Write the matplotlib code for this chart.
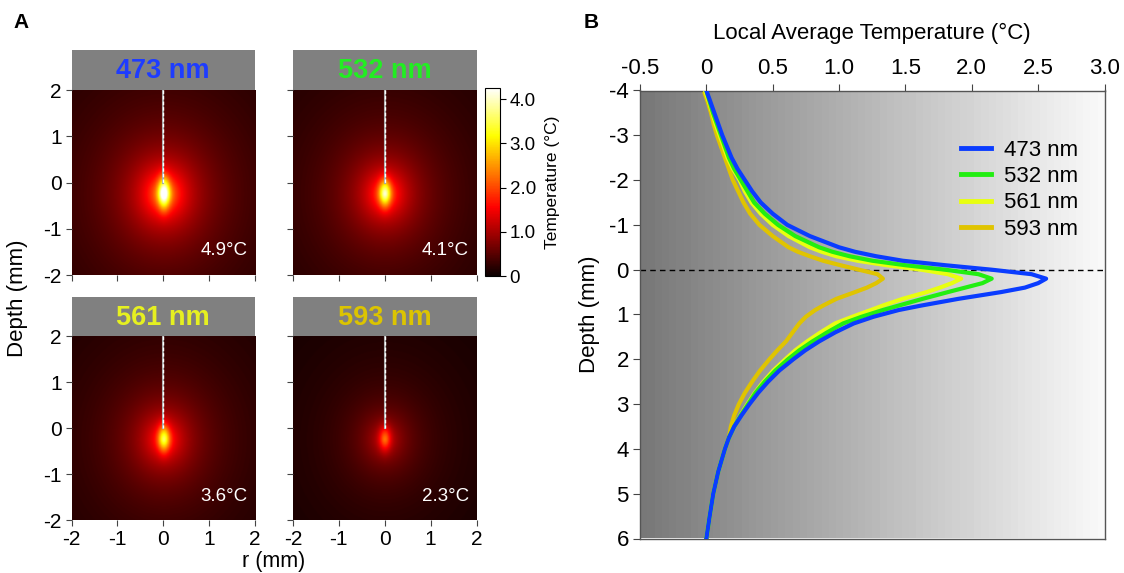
import numpy as np
import matplotlib
matplotlib.use("Agg")
import matplotlib.pyplot as plt
from matplotlib.lines import Line2D

plt.rcParams['font.family'] = ['Liberation Sans', 'DejaVu Sans']
plt.rcParams['axes.unicode_minus'] = False

# ---- data ----
wavelengths = ['473 nm', '532 nm', '561 nm', '593 nm']
line_colors = ['#0a3cff', '#22ee11', '#e8ff10', '#e0c400']
title_colors = ['#1e3cff', '#22ee22', '#e6f020', '#dcc400']
peak_temps = [4.9, 4.1, 3.6, 2.3]
peak_labels = ['4.9°C', '4.1°C', '3.6°C', '2.3°C']
# simple heat field shape per wavelength (core length, halo radius in mm)
core_len = [0.34, 0.30, 0.30, 0.28]
halo_rad = [0.42, 0.42, 0.42, 0.40]

depth = [-4, -3.75, -3.5, -3.25, -3, -2.75, -2.5, -2.25, -2, -1.75, -1.5, -1.25, -1, -0.75,
         -0.5, -0.4, -0.3, -0.2, -0.1, 0, 0.1, 0.2, 0.3, 0.4, 0.5, 0.65, 0.8, 0.9, 1.05, 1.2,
         1.4, 1.6, 1.8, 2, 2.25, 2.5, 2.75, 3, 3.25, 3.5, 3.75, 4, 4.5, 5, 5.5, 6]
temp_473 = [0.0, 0.03, 0.06, 0.09, 0.12, 0.155, 0.19, 0.235, 0.29, 0.345, 0.41, 0.50, 0.61, 0.78,
            1.0, 1.12, 1.28, 1.48, 1.80, 2.15, 2.45, 2.56, 2.50, 2.40, 2.22, 1.90, 1.62, 1.45, 1.26, 1.11,
            0.97, 0.85, 0.745, 0.655, 0.55, 0.465, 0.39, 0.325, 0.265, 0.21, 0.17, 0.14, 0.09, 0.052, 0.025, 0.0]
temp_532 = [0.0, 0.025, 0.05, 0.08, 0.11, 0.14, 0.17, 0.21, 0.26, 0.31, 0.36, 0.44, 0.54, 0.67,
            0.85, 0.95, 1.08, 1.25, 1.50, 1.80, 2.05, 2.15, 2.08, 1.95, 1.82, 1.63, 1.45, 1.33, 1.17, 1.03,
            0.91, 0.80, 0.70, 0.615, 0.52, 0.44, 0.37, 0.315, 0.26, 0.21, 0.17, 0.14, 0.09, 0.052, 0.025, 0.0]
temp_561 = [-0.01, 0.02, 0.045, 0.07, 0.10, 0.13, 0.16, 0.20, 0.25, 0.29, 0.34, 0.41, 0.50, 0.62,
            0.78, 0.87, 0.98, 1.14, 1.36, 1.62, 1.82, 1.92, 1.85, 1.76, 1.66, 1.48, 1.33, 1.24, 1.10, 0.97,
            0.86, 0.76, 0.67, 0.595, 0.505, 0.43, 0.365, 0.31, 0.258, 0.21, 0.17, 0.14, 0.09, 0.052, 0.025, 0.0]
temp_593 = [-0.02, 0.01, 0.035, 0.055, 0.08, 0.11, 0.14, 0.17, 0.20, 0.24, 0.28, 0.33, 0.40, 0.50,
            0.62, 0.69, 0.78, 0.88, 1.01, 1.15, 1.29, 1.33, 1.28, 1.21, 1.12, 0.98, 0.88, 0.82, 0.75, 0.70,
            0.65, 0.60, 0.535, 0.475, 0.405, 0.345, 0.29, 0.245, 0.21, 0.185, 0.17, 0.14, 0.09, 0.052, 0.025, 0.0]
profiles = [temp_473, temp_532, temp_561, temp_593]

W, H = 1124, 573
fig = plt.figure(figsize=(W / 100, H / 100), dpi=100)


def px_axes(x0, y0, x1, y1):
    return fig.add_axes([x0 / W, 1 - y1 / H, (x1 - x0) / W, (y1 - y0) / H])


# ---- panel A ----
r = np.linspace(-2, 2, 301)
z = np.linspace(-2, 2, 301)
R, Z = np.meshgrid(r, z)

cols = [(71.5, 255), (293, 476.5)]
rows = [(90, 275), (336, 520)]
heads = [(50, 90), (297, 336)]
im = None
for i, name in enumerate(wavelengths):
    ci, ri = i % 2, i // 2
    x0, x1 = cols[ci]
    y0, y1 = rows[ri]
    hx = px_axes(x0, heads[ri][0], x1, heads[ri][1])
    hx.set_facecolor('#808080')
    hx.set_xticks([])
    hx.set_yticks([])
    for s in hx.spines.values():
        s.set_visible(False)
    hx.text(0.5, 0.47, name, color=title_colors[i], fontsize=19.5, fontweight='bold',
            ha='center', va='center', transform=hx.transAxes)

    ax = px_axes(x0, y0, x1, y1)
    rho = np.sqrt(R ** 2 + ((Z + 0.25) / 1.15) ** 2)
    halo = 1.0 / (1.0 + (rho / halo_rad[i]) ** 1.3)
    core = np.exp(-(R / 0.12) ** 2 - ((Z + 0.22) / core_len[i]) ** 2)
    field = peak_temps[i] * (0.6 * halo + 0.4 * core)
    im = ax.imshow(field, extent=[-2, 2, -2, 2], origin='lower', cmap='hot',
                   vmin=0, vmax=4.25, aspect='auto', interpolation='bilinear')
    ax.plot([0, 0], [2, 0], color='#a8a8a8', lw=1.5)
    ax.plot([0, 0], [2, 0], color='white', lw=1.0, dashes=(2.5, 1.5))
    ax.text(0.83, 0.13, peak_labels[i], color='white', fontsize=13.5,
            ha='center', va='center', transform=ax.transAxes)
    ax.set_xlim(-2, 2)
    ax.set_ylim(-2, 2)
    ax.set_xticks([-2, -1, 0, 1, 2])
    ax.set_yticks([-2, -1, 0, 1, 2])
    ax.tick_params(direction='out', length=4, labelsize=15, color='#444444', pad=3)
    if ci == 1:
        ax.set_yticklabels([])
    if ri == 0:
        ax.set_xticklabels([])
    for s in ax.spines.values():
        s.set_visible(False)

cax = px_axes(484.5, 88, 500, 276)
cb = fig.colorbar(im, cax=cax, ticks=[0, 1, 2, 3, 4])
cb.ax.set_yticklabels(['0', '1.0', '2.0', '3.0', '4.0'])
cb.ax.tick_params(labelsize=13.5, length=4, pad=3)
cb.outline.set_linewidth(0.8)
fig.text(552 / W, 1 - 182 / H, 'Temperature (°C)', rotation=90, fontsize=12.5,
         ha='center', va='center')

fig.text(18 / W, 1 - 298 / H, 'Depth (mm)', rotation=90, fontsize=16,
         ha='center', va='center')
fig.text(274 / W, 1 - 561 / H, 'r (mm)', fontsize=15.5, ha='center', va='center')
fig.text(21 / W, 1 - 22 / H, 'A', fontsize=15, fontweight='bold', ha='center', va='center')
fig.text(591 / W, 1 - 22 / H, 'B', fontsize=15, fontweight='bold', ha='center', va='center')

# ---- panel B ----
bx = px_axes(640, 90.5, 1104.5, 538.5)
grad = np.linspace(0.47, 0.975, 64).reshape(1, -1)
bx.imshow(grad, extent=[-0.5, 3.0, 6, -4], cmap='gray', vmin=0, vmax=1,
          aspect='auto', interpolation='nearest', zorder=0)
bx.axhline(0, color='black', lw=1, dashes=(4, 3), zorder=1)
for i in reversed(range(4)):
    bx.plot(profiles[i], depth, color=line_colors[i], lw=3, zorder=2 + (3 - i),
            solid_joinstyle='round')
bx.set_xlim(-0.5, 3.0)
bx.set_ylim(6, -4)
bx.xaxis.tick_top()
bx.set_xticks([-0.5, 0, 0.5, 1.0, 1.5, 2.0, 2.5, 3.0])
bx.set_xticklabels(['-0.5', '0', '0.5', '1.0', '1.5', '2.0', '2.5', '3.0'])
bx.set_yticks(range(-4, 7))
bx.tick_params(direction='out', length=5, labelsize=16, color='#444444', pad=3)
for s in bx.spines.values():
    s.set_color('#555555')
    s.set_linewidth(1)
fig.text(872 / W, 1 - 33 / H, 'Local Average Temperature (°C)', fontsize=16,
         ha='center', va='center')
fig.text(590 / W, 1 - 314 / H, 'Depth (mm)', rotation=90, fontsize=16,
         ha='center', va='center')

handles = [Line2D([], [], color=line_colors[i], lw=3.5) for i in range(4)]
bx.legend(handles, wavelengths, loc='upper left', bbox_to_anchor=(0.668, 0.915),
          frameon=False, fontsize=16, handlelength=1.35, handletextpad=0.55,
          labelspacing=0.24, borderpad=0)

fig.savefig('out.png', dpi=100)
